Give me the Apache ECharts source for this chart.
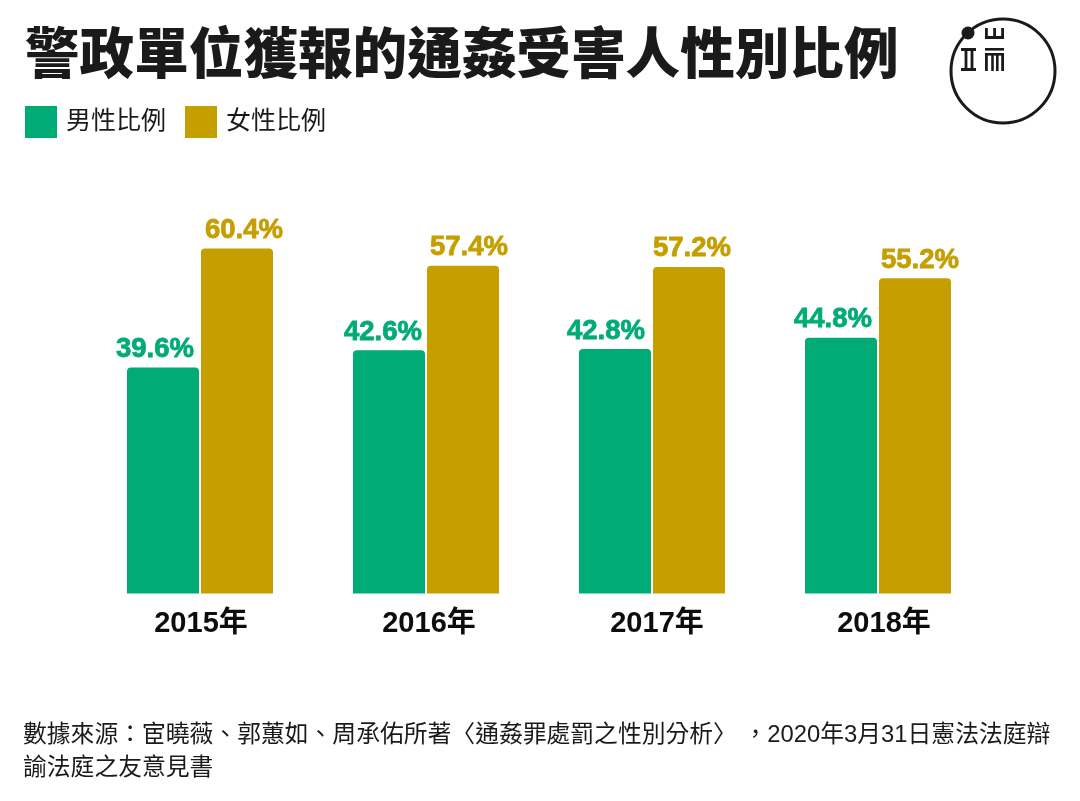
<!DOCTYPE html>
<html>
<head>
<meta charset="utf-8">
<style>
  html, body { margin: 0; padding: 0; background: #fff; }
  #chart { width: 1080px; height: 801px; }
</style>
<script src="https://cdn.jsdelivr.net/npm/echarts@6/dist/echarts.min.js"></script>
</head>
<body>
<div id="chart"></div>
<script>
const years = ["2015年", "2016年", "2017年", "2018年"];
const maleShare = [39.6, 42.6, 42.8, 44.8];
const femaleShare = [60.4, 57.4, 57.2, 55.2];
const titleText = "警政單位獲報的通姦受害人性別比例";
const sourceLines = [
  "數據來源：宦曉薇、郭蕙如、周承佑所著〈通姦罪處罰之性別分析〉 ，2020年3月31日憲法法庭辯",
  "諭法庭之友意見書",
];

const GREEN = "#00AB75";
const GOLD = "#C59E00";
const INK = "#1A1A1A";
const FONT = '"Liberation Sans", "Noto Sans CJK TC", sans-serif';

// year labels sit a little right of their bars in the original
const yearLabelPad = [2, 6, 10, 12];
// value labels are not centred on their bars either
const maleLabelShift = [-8, -6, -9, -8];
const femaleLabelShift = [7, 6, 3, 5];

// logo is just a circle, a dot and some strokes
const bar = (x, y, width, height) => ({
  type: "rect",
  shape: { x, y, width, height },
  style: { fill: INK },
});

const logo = [
  {
    type: "circle",
    shape: { cx: 1003, cy: 71, r: 52 },
    style: { fill: "none", stroke: INK, lineWidth: 3 },
  },
  { type: "circle", shape: { cx: 968, cy: 33, r: 6.5 }, style: { fill: INK } },
  // left glyph
  bar(961, 48, 15, 3),
  bar(961, 68, 15, 3),
  bar(964.6, 48, 2.8, 22),
  bar(970.6, 48, 2.8, 22),
  // top glyph
  bar(985, 36, 19, 3),
  bar(985, 28, 2.8, 10),
  bar(993.2, 28, 2.8, 10),
  bar(1001.2, 28, 2.8, 10),
  // bottom glyph
  bar(985, 48, 19, 2.6),
  bar(985, 53, 19, 2.6),
  bar(985, 53, 2.8, 18),
  bar(991.2, 53, 2.6, 18),
  bar(996, 53, 2.6, 18),
  bar(1001.2, 53, 2.8, 18),
];

const labelFor = (color) => ({
  show: true,
  position: "top",
  distance: 4,
  formatter: (p) => p.value.toFixed(1) + "%",
  color,
  fontFamily: "Liberation Sans",
  fontWeight: 700,
  fontSize: 27.5,
  textBorderColor: color,
  textBorderWidth: 0.8,
});

const barData = (values, shifts) =>
  values.map((value, i) => ({ value, label: { offset: [shifts[i], 0] } }));

const myChart = echarts.init(document.getElementById("chart"));

const option = {
  animation: false,
  backgroundColor: "#fff",
  title: [
    {
      text: titleText,
      left: 25,
      top: 29,
      padding: 0,
      textStyle: {
        color: INK,
        fontFamily: FONT,
        fontWeight: 900,
        fontSize: 54.6,
        lineHeight: 58,
      },
    },
    {
      text: sourceLines.join("\n"),
      left: 23,
      top: 719,
      padding: 0,
      textStyle: {
        color: INK,
        fontFamily: FONT,
        fontWeight: 400,
        fontSize: 23.8,
        lineHeight: 33,
      },
    },
  ],
  legend: {
    left: 25,
    top: 106,
    padding: 0,
    itemWidth: 32,
    itemHeight: 32,
    itemGap: 19,
    itemStyle: { borderWidth: 0 },
    textStyle: {
      color: INK,
      fontFamily: FONT,
      fontSize: 25,
      padding: [6, 0, 0, 4],
    },
    icon: "rect",
    data: ["男性比例", "女性比例"],
  },
  grid: { left: 87, width: 904, top: 22.5, bottom: 207.5, containLabel: false },
  xAxis: {
    type: "category",
    data: years.map((y, i) => ({
      value: y,
      textStyle: { padding: [0, 0, 0, yearLabelPad[i]] },
    })),
    axisLine: { show: false },
    axisTick: { show: false },
    axisLabel: {
      margin: 16,
      color: "#0D0D0D",
      fontFamily: FONT,
      fontWeight: 700,
      fontSize: 29,
    },
  },
  yAxis: { type: "value", min: 0, max: 100, show: false },
  series: [
    {
      name: "男性比例",
      type: "bar",
      data: barData(maleShare, maleLabelShift),
      barWidth: 72,
      barGap: "2.8%",
      itemStyle: { color: GREEN, borderRadius: [4, 4, 0, 0] },
      label: labelFor(GREEN),
    },
    {
      name: "女性比例",
      type: "bar",
      data: barData(femaleShare, femaleLabelShift),
      barWidth: 72,
      itemStyle: { color: GOLD, borderRadius: [4, 4, 0, 0] },
      label: labelFor(GOLD),
    },
  ],
  graphic: logo,
};

option && myChart.setOption(option);
</script>
</body>
</html>
